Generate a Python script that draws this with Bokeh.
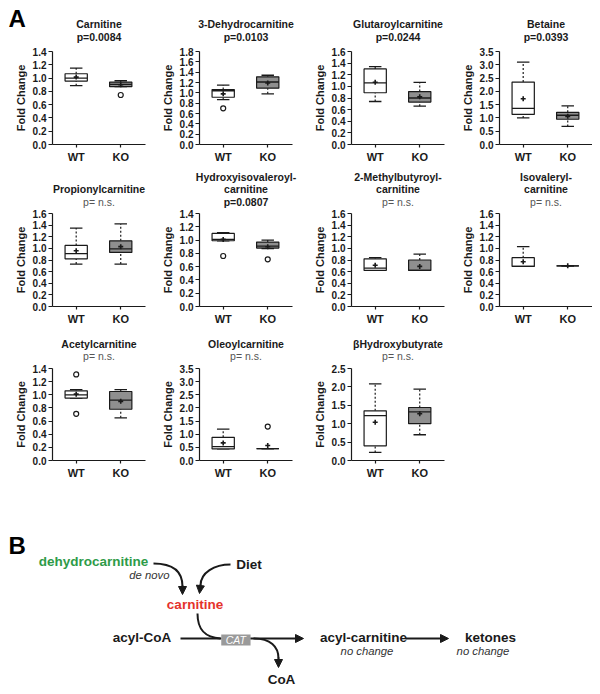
import numpy as np
from bokeh.plotting import figure
from bokeh.layouts import column, row
from bokeh.models import (Range1d, FixedTicker, NumeralTickFormatter, Spacer,
                          Arrow, NormalHead, ColumnDataSource)
from bokeh.core.properties import value
from bokeh.embed import file_html
from bokeh.resources import INLINE

FONT = "Liberation Sans"
INK = "#1a1a1a"

# ---------------- Panel A data ----------------
titles = [["Carnitine"], ["3-Dehydrocarnitine"], ["Glutaroylcarnitine"], ["Betaine"],
          ["Propionylcarnitine"], ["Hydroxyisovaleroyl-", "carnitine"],
          ["2-Methylbutyroyl-", "carnitine"], ["Isovaleryl-", "carnitine"],
          ["Acetylcarnitine"], ["Oleoylcarnitine"], ["\u03b2Hydroxybutyrate"]]
p_values = ["p=0.0084", "p=0.0103", "p=0.0244", "p=0.0393",
            "p= n.s.", "p=0.0807", "p= n.s.", "p= n.s.",
            "p= n.s.", "p= n.s.", "p= n.s."]
y_max = [1.4, 1.8, 1.6, 3.5, 1.6, 1.4, 1.6, 1.6, 1.4, 3.5, 2.5]
y_step = [0.2, 0.2, 0.2, 0.5, 0.2, 0.2, 0.2, 0.2, 0.2, 0.5, 0.5]
groups = ["WT", "KO"]

wt_low  = [0.885, 0.87, 0.74, 1.00, 0.73, 0.99, 0.62, 0.69, 0.95, 0.44, 0.22]
wt_q1   = [0.955, 0.915, 0.89, 1.13, 0.82, 0.99, 0.62, 0.69, 0.95, 0.44, 0.40]
wt_med  = [1.00, 1.04, 1.06, 1.36, 0.91, 1.01, 0.66, 0.69, 1.00, 0.53, 1.22]
wt_q3   = [1.065, 1.065, 1.30, 2.35, 1.05, 1.10, 0.82, 0.84, 1.06, 0.88, 1.35]
wt_high = [1.15, 1.15, 1.34, 3.10, 1.35, 1.11, 0.84, 1.03, 1.08, 1.19, 2.08]
wt_mean = [1.015, 0.98, 1.07, 1.72, 0.96, 1.01, 0.71, 0.77, 1.01, 0.67, 1.04]

ko_low  = [0.87, 0.98, 0.66, 0.68, 0.73, 0.87, 0.62, 0.70, 0.65, 0.45, 0.70]
ko_q1   = [0.87, 1.09, 0.73, 0.95, 0.93, 0.88, 0.62, 0.70, 0.78, 0.45, 1.00]
ko_med  = [0.905, 1.21, 0.80, 1.10, 0.99, 0.91, 0.62, 0.70, 0.92, 0.45, 1.32]
ko_q3   = [0.94, 1.31, 0.91, 1.21, 1.13, 0.97, 0.80, 0.70, 1.05, 0.45, 1.44]
ko_high = [0.96, 1.34, 1.07, 1.45, 1.42, 1.00, 0.90, 0.70, 1.08, 0.45, 1.94]
ko_mean = [0.90, 1.19, 0.82, 1.06, 1.03, 0.90, 0.69, 0.70, 0.90, 0.57, 1.27]

outlier_panel = [0, 1, 5, 5, 8, 8, 9]
outlier_group = [1, 0, 0, 1, 0, 0, 1]
outlier_value = [0.745, 0.70, 0.76, 0.71, 1.31, 0.71, 1.29]

# ---------------- Panel B data ----------------
node_text = ["dehydrocarnitine", "Diet", "carnitine", "acyl-CoA", "acyl-carnitine", "ketones", "CoA"]
node_x = [85, 240.5, 186.5, 133.5, 355, 482, 273]
node_y = [74.5, 77.5, 117.8, 151, 150.5, 150.5, 192.5]
node_color = ["#2e9b48", INK, "#e5322b", INK, INK, INK, INK]
note_text = ["de novo", "no change", "no change"]
note_x = [161, 358.5, 474.5]
note_y = [88.5, 164.5, 164.5]

# ---------------- layout constants ----------------
TITLE_H = [45, 39, 36]
CHART_H = [125, 119, 122]
CHART_TOP = [6, 4, 4]
CHART_BOTTOM = [26, 22, 26]
P_BASE = [36.5, 31.2, 27.8]
LINE_GAP = 12.6
COL_W = [147, 152, 148, 137]
LEFT = 44
FRAME_W = 93
BOX_W = 0.5
CAP_W = 0.28


def blank(w, h):
    f = figure(width=w, height=h, x_range=Range1d(0, w), y_range=Range1d(h, 0),
               x_axis_type=None, y_axis_type=None, output_backend="svg", toolbar_location=None,
               min_border_left=0, min_border_right=0, min_border_top=0, min_border_bottom=0)
    f.title.visible = False
    f.outline_line_color = None
    f.grid.visible = False
    return f


def make_title(i):
    r, c = divmod(i, 4)
    w = COL_W[c]
    t = blank(w, TITLE_H[r])
    cx = LEFT + FRAME_W / 2
    sig = p_values[i] != "p= n.s."
    t.text(x=[cx], y=[P_BASE[r]], text=[p_values[i]], text_align="center",
           text_baseline="alphabetic", text_font=value(FONT), text_font_size="10.5px",
           text_font_style="bold" if sig else "normal",
           text_color=INK if sig else "#555555")
    lines = list(reversed(titles[i]))
    t.text(x=[cx] * len(lines), y=[P_BASE[r] - LINE_GAP * (j + 1) for j in range(len(lines))],
           text=lines, text_align="center", text_baseline="alphabetic",
           text_font=value(FONT), text_font_size="10.5px", text_font_style="bold",
           text_color=INK)
    if i == 0:
        t.text(x=[0], y=[18], text=["A"], text_align="left", text_baseline="alphabetic",
               text_font=value(FONT), text_font_size="24px", text_font_style="bold",
               text_color="black")
    return t


def make_panel(i):
    r, c = divmod(i, 4)
    w = COL_W[c]
    p = figure(width=w, height=CHART_H[r], x_range=Range1d(-0.532, 1.556),
               y_range=Range1d(0, y_max[i]), output_backend="svg", toolbar_location=None,
               min_border_left=LEFT, min_border_right=w - LEFT - FRAME_W,
               min_border_top=CHART_TOP[r], min_border_bottom=CHART_BOTTOM[r])
    p.title.visible = False
    p.outline_line_color = None
    p.grid.visible = False

    xs = np.array([0.0, 1.0])
    src = ColumnDataSource(dict(
        x=xs, low=[wt_low[i], ko_low[i]], q1=[wt_q1[i], ko_q1[i]], med=[wt_med[i], ko_med[i]],
        q3=[wt_q3[i], ko_q3[i]], high=[wt_high[i], ko_high[i]], mean=[wt_mean[i], ko_mean[i]],
        fill=["white", "#8f8f8f"], bl=xs - BOX_W / 2, br=xs + BOX_W / 2,
        cl=xs - CAP_W / 2, cr=xs + CAP_W / 2))

    p.segment(x0="x", x1="x", y0="q3", y1="high", source=src, line_color=INK,
              line_width=1.2, line_dash="2 2")
    p.segment(x0="x", x1="x", y0="low", y1="q1", source=src, line_color=INK,
              line_width=1.2, line_dash="2 2")
    p.segment(x0="cl", x1="cr", y0="high", y1="high", source=src, line_color=INK, line_width=1.3)
    p.segment(x0="cl", x1="cr", y0="low", y1="low", source=src, line_color=INK, line_width=1.3)
    p.quad(left="bl", right="br", bottom="q1", top="q3", source=src, fill_color="fill",
           line_color=INK, line_width=1.2)
    p.segment(x0="bl", x1="br", y0="med", y1="med", source=src, line_color=INK, line_width=1.3)
    p.scatter(x="x", y="mean", source=src, marker="cross", size=5, line_color=INK, line_width=1.6)

    ox = [outlier_group[k] for k in range(len(outlier_panel)) if outlier_panel[k] == i]
    oy = [outlier_value[k] for k in range(len(outlier_panel)) if outlier_panel[k] == i]
    if ox:
        p.scatter(x=ox, y=oy, marker="circle", size=5, fill_color="white",
                  line_color=INK, line_width=1.2)

    n = int(round(y_max[i] / y_step[i]))
    p.yaxis.ticker = FixedTicker(ticks=[round(k * y_step[i], 2) for k in range(n + 1)])
    p.yaxis.formatter = NumeralTickFormatter(format="0.0")
    p.xaxis.ticker = FixedTicker(ticks=[0, 1])
    p.xaxis.major_label_overrides = {0: groups[0], 1: groups[1]}
    for ax in (p.xaxis[0], p.yaxis[0]):
        ax.axis_line_color = INK
        ax.axis_line_width = 1.2
        ax.major_tick_line_color = INK
        ax.major_tick_line_width = 1.2
        ax.minor_tick_line_color = None
        ax.major_tick_in = 0
        ax.major_label_text_font = FONT
        ax.major_label_text_font_style = "bold"
        ax.major_label_text_color = INK
    p.yaxis.major_tick_out = 4
    p.yaxis.major_label_text_font_size = "10px"
    p.yaxis.major_label_standoff = 2
    p.yaxis.axis_label = "Fold Change"
    p.yaxis.axis_label_text_font = FONT
    p.yaxis.axis_label_text_font_style = "bold"
    p.yaxis.axis_label_text_font_size = "11px"
    p.yaxis.axis_label_text_color = INK
    p.yaxis.axis_label_standoff = 3
    p.xaxis.major_tick_out = 3
    p.xaxis.major_label_text_font_size = "11px"
    p.xaxis.major_label_standoff = 3
    return p


n_panels = len(titles)
title_figs = [make_title(i) for i in range(n_panels)]
chart_figs = [make_panel(i) for i in range(n_panels)]

# ---------------- Panel B ----------------
PB_H = 206
pb = blank(584, PB_H)

pb.text(x=[0], y=[59], text=["B"], text_font=value(FONT), text_font_size="24px",
        text_font_style="bold", text_color="black", text_align="left", text_baseline="alphabetic")
pb.text(x=node_x, y=node_y, text=node_text, text_color=node_color, text_font=value(FONT),
        text_font_size="13.5px", text_font_style="bold", text_align="center",
        text_baseline="alphabetic")
pb.text(x=note_x, y=note_y, text=note_text, text_color="#333333", text_font=value(FONT),
        text_font_size="11.3px", text_font_style="italic",
        text_align=["right", "center", "center"], text_baseline="alphabetic")

LW = 2
pb.segment(x0=[172], y0=[152], x1=[213], y1=[152], line_color=INK, line_width=LW)
pb.rect(x=[227.4], y=[153.5], width=[29.3], height=[11], fill_color="#9a9a9a", line_color=None)
pb.text(x=[227.4], y=[153.8], text=["CAT"], text_color="white", text_font=value(FONT),
        text_font_size="10.5px", text_font_style="italic", text_align="center",
        text_baseline="middle")

pb.bezier(x0=[145, 222, 189, 245], y0=[77, 78, 127, 152],
          x1=[174, 192, 212, 270], y1=[100, 99, 152, 172],
          cx0=[164, 206, 189, 262], cy0=[77, 78, 144, 152],
          cx1=[174, 192, 197, 270], cy1=[84, 86, 151, 160],
          line_color=INK, line_width=LW)

head = dict(size=8, fill_color=INK, line_color=INK, line_width=1)
arrows = [((174, 99), (174, 108)), ((192, 98), (191, 107)), ((270, 171), (270, 181)),
          ((242, 152), (295, 152)), ((397, 152), (440, 152))]
for (xa, ya), (xb, yb) in arrows:
    pb.add_layout(Arrow(end=NormalHead(**head), x_start=xa, y_start=ya, x_end=xb, y_end=yb,
                        line_color=INK, line_width=LW))


def padded(figs, h):
    return row(Spacer(width=8, height=h), *figs)


rows = []
for r in range(3):
    idx = list(range(4 * r, min(4 * r + 4, n_panels)))
    rows.append(padded([title_figs[k] for k in idx], TITLE_H[r]))
    rows.append(padded([chart_figs[k] for k in idx], CHART_H[r]))
rows.append(padded([pb], PB_H))

layout = column(*rows)

open("out.html", "w").write(file_html(layout, INLINE))
